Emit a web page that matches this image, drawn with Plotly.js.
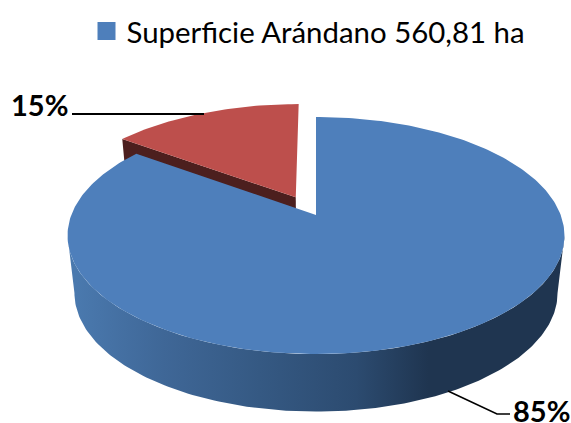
<!DOCTYPE html>
<html>
<head>
<meta charset="utf-8">
<script src="https://cdn.plot.ly/plotly-3.0.1.min.js"></script>
<style>html,body{margin:0;padding:0;background:#fff}#chart{width:571px;height:423px}</style>
</head>
<body>
<div id="chart"></div>
<script>
// Data
const categories = ["Superficie Arándano 560,81 ha", "Otros"];
const shares = [85, 15];
const labelTexts = ["85%", "15%"];

// 3D-pie look: perspective projection of a disc onto the plot's axes
const topDisc = {cx: 316, cy: 215, R: 244.7, k: 115};
const lowDisc = {cx: 316, cy: 272.5, R: 237.9, k: 115};
const persp = 0.1733;
const explodeRed = {u: -0.085, v: -0.158};

function project(disc, u, v) {
  const s = 1 / (1 - persp * v);
  return [disc.cx + disc.R * u * s, disc.cy + disc.k * v * s];
}
function rim(disc, deg, off) {
  const t = deg * Math.PI / 180;
  return project(disc, Math.sin(t) + off.u, -Math.cos(t) + off.v);
}
function arc(disc, from, to, off) {
  const pts = [], n = Math.max(2, Math.ceil(Math.abs(to - from)));
  for (let i = 0; i <= n; i++) pts.push(rim(disc, from + (to - from) * i / n, off));
  return pts;
}
function poly(pts, extra) {
  return Object.assign({
    type: "scatter", mode: "lines", x: pts.map(p => p[0]), y: pts.map(p => p[1]),
    fill: "toself", line: {width: 0}, hoverinfo: "skip", showlegend: false
  }, extra);
}

const total = shares[0] + shares[1];
const blueEnd = 360 * shares[0] / total;
const none = {u: 0, v: 0};

const redCentreTop = project(topDisc, explodeRed.u, explodeRed.v);
const redCentreLow = project(lowDisc, explodeRed.u, explodeRed.v);

// red slice: cut wall, then face
const redWall = poly([
  rim(topDisc, blueEnd, explodeRed), redCentreTop, redCentreLow, rim(lowDisc, blueEnd, explodeRed)
], {fillcolor: "#4c1f1e"});
const redFace = poly(
  [redCentreTop].concat(arc(topDisc, blueEnd, 360, explodeRed)),
  {fillcolor: "#bd4f4c"}
);

// blue slice: rim wall with horizontal gradient, then face
const wallPts = arc(lowDisc, 100, 260, none).concat(arc(topDisc, 260, 100, none));
const blueWall = poly(wallPts, {
  fillcolor: "#33557f",
  fillgradient: {
    type: "horizontal", start: 76, stop: 559,
    colorscale: [
      [0, "#4a79ae"], [0.18, "#3f6797"], [0.38, "#355983"],
      [0.58, "#2c4b70"], [0.73, "#1f3550"], [1, "#1f3550"]
    ]
  }
});
const blueFace = poly(
  [[topDisc.cx, topDisc.cy]].concat(arc(topDisc, 0, blueEnd, none)),
  {fillcolor: "#4e7fbb"}
);

// legend entry
const legendTrace = {
  type: "scatter", mode: "markers", x: [null], y: [null], name: categories[0],
  marker: {symbol: "square", size: 16, color: "#4e7fbb", line: {color: "#4e7fbb", width: 2}},
  hoverinfo: "skip", showlegend: true
};

const labelFont = {family: "Lato, Carlito, sans-serif", size: 29, color: "#000", weight: 700};

const layout = {
  width: 571, height: 423,
  margin: {l: 0, r: 0, t: 0, b: 0},
  paper_bgcolor: "#fff", plot_bgcolor: "#fff",
  xaxis: {range: [0, 571], visible: false, fixedrange: true},
  yaxis: {range: [423, 0], visible: false, fixedrange: true},
  showlegend: true,
  legend: {
    x: 0.1515, y: 0.987, xanchor: "left", yanchor: "top",
    font: {family: "Lato, Carlito, sans-serif", size: 29.4, color: "#000"},
    bgcolor: "rgba(0,0,0,0)", itemwidth: 30, tracegroupgap: 0
  },
  annotations: [
    {x: 541, y: 410, xref: "x", yref: "y", height: 26, text: labelTexts[0], showarrow: false, font: labelFont},
    {x: 39.5, y: 104, xref: "x", yref: "y", text: labelTexts[1], showarrow: false, font: labelFont}
  ],
  shapes: [
    {type: "path", path: "M72,114 L204,114", line: {color: "#000", width: 2}, layer: "above"},
    {type: "path", path: "M448,391 L497,414 L510,414", line: {color: "#000", width: 1.6}, layer: "above"}
  ]
};

Plotly.newPlot("chart", [redWall, redFace, blueWall, blueFace, legendTrace], layout,
  {staticPlot: true, displayModeBar: false});
</script>
</body>
</html>
